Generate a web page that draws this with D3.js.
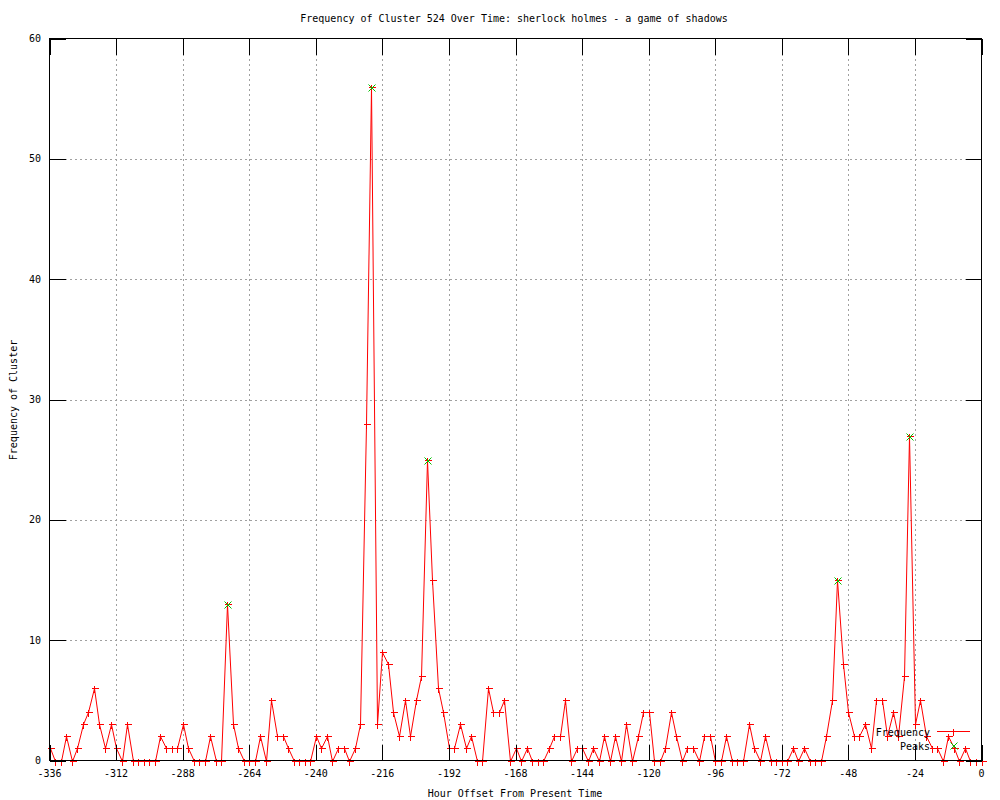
<!DOCTYPE html>
<html>
<head>
<meta charset="utf-8">
<script src="https://cdn.jsdelivr.net/npm/d3@7"></script>
<style>
  body { margin: 0; background: #fff; }
  text { font-family: "DejaVu Sans Mono", "Liberation Mono", monospace; font-size: 10px; fill: #000; }
</style>
</head>
<body>
<div id="chart"></div>
<script>
// frequency per 2-hour bucket, from -336 to 0
let freqValues = [
  1, 0, 0, 2, 0, 1, 3, 4, 6, 3,
  1, 3, 1, 0, 3, 0, 0, 0, 0, 0,
  2, 1, 1, 1, 3, 1, 0, 0, 0, 2,
  0, 0, 13, 3, 1, 0, 0, 0, 2, 0,
  5, 2, 2, 1, 0, 0, 0, 0, 2, 1,
  2, 0, 1, 1, 0, 1, 3, 28, 56, 3,
  9, 8, 4, 2, 5, 2, 5, 7, 25, 15,
  6, 4, 1, 1, 3, 1, 2, 0, 0, 6,
  4, 4, 5, 0, 1, 0, 1, 0, 0, 0,
  1, 2, 2, 5, 0, 1, 1, 0, 1, 0,
  2, 0, 2, 0, 3, 0, 2, 4, 4, 0,
  0, 1, 4, 2, 0, 1, 1, 0, 2, 2,
  0, 0, 2, 0, 0, 0, 3, 1, 0, 2,
  0, 0, 0, 0, 1, 0, 1, 0, 0, 0,
  2, 5, 15, 8, 4, 2, 2, 3, 1, 5,
  5, 2, 4, 2, 7, 27, 3, 5, 2, 1,
  1, 0, 2, 1, 0, 1, 0, 0, 0
];
let freqHours = d3.range(-336, 1, 2);

// detected peaks
let peakHours = [-272, -220, -200, -52, -26];
let peakValues = [13, 56, 25, 15, 27];

let xTicks = [-336, -312, -288, -264, -240, -216, -192, -168, -144, -120, -96, -72, -48, -24, 0];
let yTicks = [0, 10, 20, 30, 40, 50, 60];

let svgWidth = 1000;
let svgHeight = 800;
let plot = { left: 49.5, right: 981.5, top: 38.5, bottom: 760.5 };
let tickLen = 16;

let svg = d3.select('#chart')
  .append('svg')
  .attr('width', svgWidth)
  .attr('height', svgHeight)
  .attr('shape-rendering', 'crispEdges');

let x = d3.scaleLinear().domain([-336, 0]).range([plot.left, plot.right]);
let y = d3.scaleLinear().domain([0, 60]).range([plot.bottom, plot.top]);

// grid
let grid = svg.append('g')
  .attr('stroke', '#a0a0a0')
  .attr('stroke-dasharray', '2,3');

grid.selectAll('.vgrid')
  .data(xTicks.slice(1, -1))
  .enter()
  .append('line')
  .attr('x1', d => Math.round(x(d)) + 0.5)
  .attr('x2', d => Math.round(x(d)) + 0.5)
  .attr('y1', plot.top)
  .attr('y2', plot.bottom);

grid.selectAll('.hgrid')
  .data(yTicks.slice(1, -1))
  .enter()
  .append('line')
  .attr('x1', plot.left)
  .attr('x2', plot.right)
  .attr('y1', d => Math.round(y(d)) + 0.5)
  .attr('y2', d => Math.round(y(d)) + 0.5);

// frequency line
let pts = freqHours.map((h, i) => [h, freqValues[i]]);

let line = d3.line()
  .x(d => Math.round(x(d[0])) + 0.5)
  .y(d => Math.round(y(d[1])) + 0.5);

svg.append('path')
  .datum(pts)
  .attr('d', line)
  .attr('fill', 'none')
  .attr('stroke', '#ff0000')
  .attr('stroke-width', 1)
  .attr('shape-rendering', 'auto');

// plus markers
function plusPath(cx, cy) {
  return `M${cx - 3},${cy}H${cx + 4}M${cx},${cy - 3}V${cy + 4}`;
}
function crossPath(cx, cy) {
  return `M${cx - 3},${cy - 3}L${cx + 4},${cy + 4}M${cx - 3},${cy + 4}L${cx + 4},${cy - 3}`;
}

svg.append('g')
  .selectAll('path')
  .data(pts)
  .enter()
  .append('path')
  .attr('d', d => plusPath(Math.round(x(d[0])) + 0.5, Math.round(y(d[1])) + 0.5))
  .attr('stroke', '#ff0000');

// peaks
svg.append('g')
  .selectAll('path')
  .data(peakHours)
  .enter()
  .append('path')
  .attr('d', (d, i) => crossPath(Math.round(x(d)) + 0.5, Math.round(y(peakValues[i])) + 0.5))
  .attr('stroke', '#00c000')
  .attr('shape-rendering', 'auto');

// border
svg.append('rect')
  .attr('x', plot.left)
  .attr('y', plot.top)
  .attr('width', plot.right - plot.left)
  .attr('height', plot.bottom - plot.top)
  .attr('fill', 'none')
  .attr('stroke', '#000');

// tick marks on all four sides
let ticks = svg.append('g').attr('stroke', '#000');

xTicks.forEach(function(t) {
  let px = Math.round(x(t)) + 0.5;
  ticks.append('line').attr('x1', px).attr('x2', px).attr('y1', plot.bottom).attr('y2', plot.bottom - tickLen);
  ticks.append('line').attr('x1', px).attr('x2', px).attr('y1', plot.top).attr('y2', plot.top + tickLen);
});

yTicks.forEach(function(t) {
  let py = Math.round(y(t)) + 0.5;
  ticks.append('line').attr('x1', plot.left).attr('x2', plot.left + tickLen).attr('y1', py).attr('y2', py);
  ticks.append('line').attr('x1', plot.right).attr('x2', plot.right - tickLen).attr('y1', py).attr('y2', py);
});

// tick labels
svg.append('g')
  .selectAll('text')
  .data(xTicks)
  .enter()
  .append('text')
  .attr('x', d => x(d))
  .attr('y', 777)
  .attr('text-anchor', 'middle')
  .text(d => d);

svg.append('g')
  .selectAll('text')
  .data(yTicks)
  .enter()
  .append('text')
  .attr('x', 41)
  .attr('y', d => y(d) + 3.5)
  .attr('text-anchor', 'end')
  .text(d => d);

// titles
svg.append('text')
  .attr('x', 514)
  .attr('y', 22)
  .attr('text-anchor', 'middle')
  .text('Frequency of Cluster 524 Over Time: sherlock holmes - a game of shadows');

svg.append('text')
  .attr('x', 515)
  .attr('y', 797)
  .attr('text-anchor', 'middle')
  .text('Hour Offset From Present Time');

svg.append('text')
  .attr('transform', 'translate(17, 400) rotate(-90)')
  .attr('text-anchor', 'middle')
  .text('Frequency of Cluster');

// legend
let legend = svg.append('g');

legend.append('text')
  .attr('x', 930)
  .attr('y', 735.5)
  .attr('text-anchor', 'end')
  .text('Frequency');

legend.append('line')
  .attr('x1', 937).attr('x2', 970)
  .attr('y1', 731.5).attr('y2', 731.5)
  .attr('stroke', '#ff0000');

legend.append('path')
  .attr('d', plusPath(953.5, 731.5))
  .attr('stroke', '#ff0000');

legend.append('text')
  .attr('x', 930)
  .attr('y', 749.5)
  .attr('text-anchor', 'end')
  .text('Peaks');

legend.append('path')
  .attr('d', crossPath(953.5, 745.5))
  .attr('stroke', '#00c000')
  .attr('shape-rendering', 'auto');
</script>
</body>
</html>
